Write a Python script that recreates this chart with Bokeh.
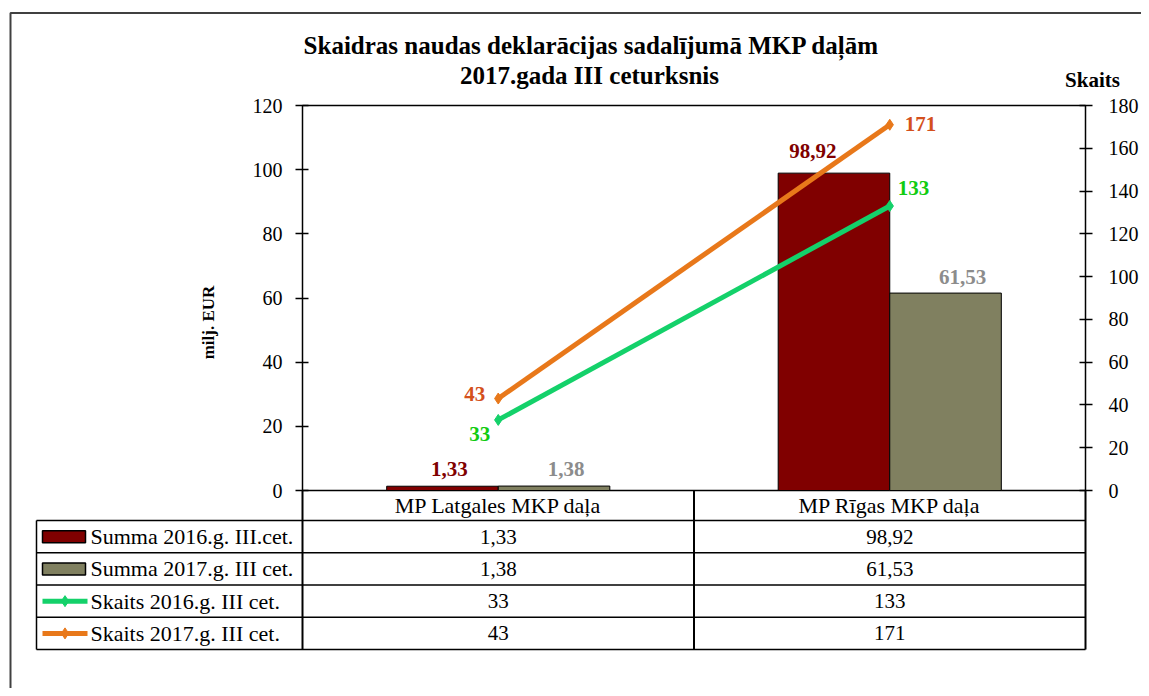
import math
from bokeh.plotting import figure
from bokeh.models import Range1d, LinearAxis, FixedTicker
from bokeh.embed import file_html
from bokeh.resources import INLINE
from bokeh.core.properties import value

# ---------------- data ----------------
categories = ["MP Latgales MKP daļa", "MP Rīgas MKP daļa"]
series_names = ["Summa 2016.g. III.cet.", "Summa 2017.g. III cet.",
                "Skaits 2016.g. III cet.", "Skaits 2017.g. III cet."]
sum_2016 = [1.33, 98.92]
sum_2017 = [1.38, 61.53]
cnt_2016 = [33, 133]
cnt_2017 = [43, 171]
left_ticks = [0, 20, 40, 60, 80, 100, 120]
right_ticks = [0, 20, 40, 60, 80, 100, 120, 140, 160, 180]
title_lines = ["Skaidras naudas deklarācijas sadalījumā MKP daļām",
               "2017.gada III ceturksnis"]
left_title = "milj. EUR"
right_title = "Skaits"

# ---------------- styles / layout ----------------
FONT = "Liberation Serif"
C_SUM16 = "#800000"
C_SUM17 = "#808060"
C_CNT16 = "#14D16A"
C_CNT17 = "#E8781A"
T_SUM16 = "#800000"
T_SUM17 = "#8C8C8C"
T_CNT16 = "#11CC11"
T_CNT17 = "#D4501C"
W, H = 1141, 688          # canvas size (pixel layout coordinates = page pixels)
PLOT_L, PLOT_R = 302, 1085  # plot frame in pixels
PLOT_T, PLOT_B = 105, 490
TAB_L = 36
TAB_T = 520
ROW_H = 32.25
BAR_W = 0.285


def fmt(v):
    return f"{v:.2f}".replace(".", ",")


def span(px0, v0, px1, v1, lo, hi):
    k = (v1 - v0) / (px1 - px0)
    return v0 + (lo - px0) * k, v0 + (hi - px0) * k


n = len(categories)
ymax_l, ymax_r = left_ticks[-1], right_ticks[-1]
cx0, cx1 = span(PLOT_L, 0, PLOT_R, n, 0, W)
sy0, sy1 = span(PLOT_B, 0, PLOT_T, ymax_l, H, 0)
ny0, ny1 = span(PLOT_B, 0, PLOT_T, ymax_r, H, 0)

p = figure(width=W, height=H, x_range=Range1d(0, W), y_range=Range1d(H, 0),
           x_axis_type=None, y_axis_type=None, output_backend="svg",
           toolbar_location=None, min_border=0, outline_line_color=None,
           background_fill_color="white", border_fill_color="white")
p.xgrid.visible = False
p.ygrid.visible = False
p.extra_x_ranges = {"cat": Range1d(cx0, cx1)}
p.extra_y_ranges = {"sum": Range1d(sy0, sy1), "cnt": Range1d(ny0, ny1)}

centers = [i + 0.5 for i in range(n)]
x16 = [c - BAR_W / 2 for c in centers]
x17 = [c + BAR_W / 2 for c in centers]

# outer frame of the picture
p.line(x=[10, 10, W + 20], y=[H + 20, 12.5, 12.5], line_color="#404040", line_width=2)

# axes
def style_axis(ax):
    ax.major_tick_in = 6
    ax.major_tick_out = 7
    ax.minor_tick_line_color = None
    ax.major_label_text_font = FONT
    ax.major_label_text_font_size = "20px"
    ax.major_label_text_color = "black"
    ax.axis_line_color = "black"
    ax.axis_line_width = 1.5
    ax.major_tick_line_color = "black"
    ax.major_tick_line_width = 1.5

la = LinearAxis(x_range_name="cat", y_range_name="sum", fixed_location=0,
                bounds=(0, ymax_l), ticker=FixedTicker(ticks=left_ticks))
style_axis(la)
la.major_label_standoff = 13
p.add_layout(la, "left")
ra = LinearAxis(x_range_name="cat", y_range_name="cnt", fixed_location=n,
                bounds=(0, ymax_r), ticker=FixedTicker(ticks=right_ticks))
style_axis(ra)
ra.major_label_standoff = 16
p.add_layout(ra, "right")

# plot frame top / bottom lines
p.segment(x0=[0, 0], x1=[n, n], y0=[0, ymax_l], y1=[0, ymax_l], x_range_name="cat",
          y_range_name="sum", line_color="black", line_width=1.5)

# bars
p.vbar(x=x16, top=sum_2016, width=BAR_W, x_range_name="cat", y_range_name="sum",
       fill_color=C_SUM16, line_color="black", line_width=1)
p.vbar(x=x17, top=sum_2017, width=BAR_W, x_range_name="cat", y_range_name="sum",
       fill_color=C_SUM17, line_color="black", line_width=1)

# lines
for vals, col in ((cnt_2016, C_CNT16), (cnt_2017, C_CNT17)):
    p.line(x=centers, y=vals, x_range_name="cat", y_range_name="cnt", line_color=col,
           line_width=5)
    p.scatter(x=centers, y=vals, x_range_name="cat", y_range_name="cnt", marker="diamond",
              size=11, fill_color=col, line_color=col)

# data labels
lab_kw = dict(text_font=value(FONT), text_font_style="bold", text_font_size="21px",
              text_baseline="middle", x_range_name="cat")
p.text(x=x16, y=sum_2016, text=[fmt(v) for v in sum_2016], x_offset=[7, -21],
       y_offset=[-17, -22], text_align="center", text_color=T_SUM16, y_range_name="sum",
       **lab_kw)
p.text(x=x17, y=sum_2017, text=[fmt(v) for v in sum_2017], x_offset=[12, 17],
       y_offset=[-17, -16], text_align="center", text_color=T_SUM17, y_range_name="sum",
       **lab_kw)
p.text(x=centers, y=cnt_2016, text=[str(v) for v in cnt_2016], x_offset=[-8, 8],
       y_offset=[14, -18], text_align=["right", "left"], text_color=T_CNT16,
       y_range_name="cnt", **lab_kw)
p.text(x=centers, y=cnt_2017, text=[str(v) for v in cnt_2017], x_offset=[-13, 15],
       y_offset=[-5, -1], text_align=["right", "left"], text_color=T_CNT17,
       y_range_name="cnt", **lab_kw)

# titles
p.text(x=[591, 589], y=[45, 75], text=title_lines, text_align="center",
       text_baseline="middle", text_font=value(FONT), text_font_style="bold",
       text_font_size="25px", text_color="black")
p.text(x=[1092], y=[79], text=[right_title], text_align="center", text_baseline="middle",
       text_font=value(FONT), text_font_style="bold", text_font_size="21px",
       text_color="black")
p.text(x=[208], y=[322], text=[left_title], angle=math.pi / 2, text_align="center",
       text_baseline="middle", text_font=value(FONT), text_font_style="bold",
       text_font_size="17px", text_color="black")

# ---------------- data table ----------------
nrows = len(series_names)
row_lines = [TAB_T + ROW_H * r for r in range(nrows + 1)]
TAB_B = row_lines[-1]
# horizontal lines of the legend/value rows
p.segment(x0=[TAB_L] * len(row_lines), x1=[PLOT_R] * len(row_lines), y0=row_lines,
          y1=row_lines, line_color="black", line_width=1.5)
p.segment(x0=[TAB_L], x1=[TAB_L], y0=[TAB_T], y1=[TAB_B], line_color="black",
          line_width=1.5)
# vertical lines at category boundaries (header row included)
p.segment(x0=list(range(n + 1)), x1=list(range(n + 1)), y0=[PLOT_B] * (n + 1),
          y1=[TAB_B] * (n + 1), x_range_name="cat", line_color="black", line_width=2)

# header row: category names
p.text(x=centers, y=[(PLOT_B + TAB_T) / 2] * n, text=categories, x_range_name="cat",
       text_align="center", text_baseline="middle", text_font=value(FONT),
       text_font_size="22px", text_color="black")

rows = [[fmt(v) for v in sum_2016], [fmt(v) for v in sum_2017],
        [str(v) for v in cnt_2016], [str(v) for v in cnt_2017]]
tx, ty, tt = [], [], []
for r, vals in enumerate(rows):
    for i, s in enumerate(vals):
        tx.append(centers[i])
        ty.append(TAB_T + ROW_H * (r + 0.5))
        tt.append(s)
p.text(x=tx, y=ty, text=tt, x_range_name="cat", text_align="center",
       text_baseline="middle", text_font=value(FONT), text_font_size="21px",
       text_color="black")

row_mid = [TAB_T + ROW_H * (r + 0.5) for r in range(nrows)]
p.text(x=[TAB_L + 54] * nrows, y=row_mid, text=series_names, text_align="left",
       text_baseline="middle", text_font=value(FONT), text_font_size="22px",
       text_color="black")

# legend keys
p.rect(x=[TAB_L + 27.5] * 2, y=row_mid[:2], width=43, height=12,
       fill_color=[C_SUM16, C_SUM17], line_color="black", line_width=1.5)
p.segment(x0=[TAB_L + 6] * 2, x1=[TAB_L + 51] * 2, y0=row_mid[2:], y1=row_mid[2:],
          line_color=[C_CNT16, C_CNT17], line_width=5)
p.scatter(x=[TAB_L + 28.5] * 2, y=row_mid[2:], marker="diamond", size=11,
          fill_color=[C_CNT16, C_CNT17], line_color=[C_CNT16, C_CNT17])

open("out.html", "w").write(file_html(p, INLINE))
